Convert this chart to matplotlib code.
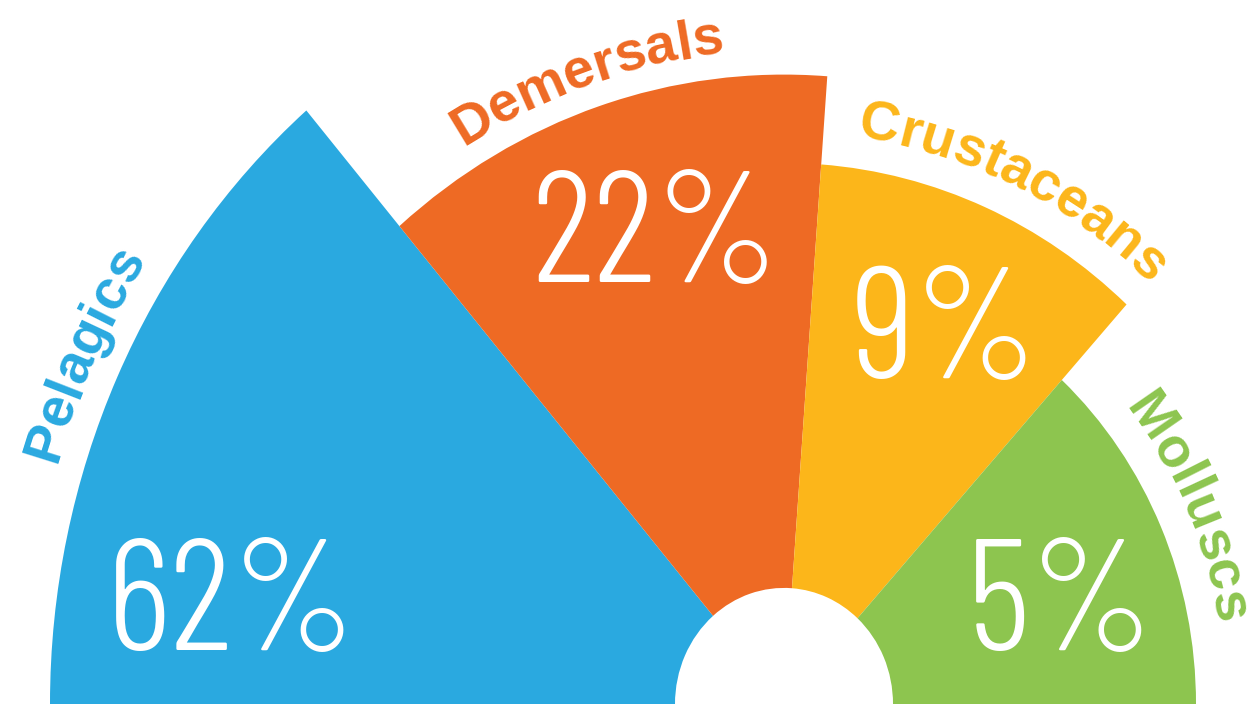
import numpy as np
import matplotlib
matplotlib.use("Agg")
import matplotlib.pyplot as plt
from matplotlib.patches import Wedge
from matplotlib import font_manager as fm
from matplotlib.ft2font import FT2Font

groups = ['Pelagics', 'Demersals', 'Crustaceans', 'Molluscs']
shares = [62, 22, 9, 5]
# angular width (degrees) and outer radius of each petal
spans = [49.4, 44.8, 38.2, 47.6]
reach = [734, 591, 508, 412]
colors = ['#2AA9E0', '#EE6A24', '#FCB61A', '#8DC54F']

hole = 109
squash = 1.065  # the half-rose is drawn slightly taller than wide

# where the names run along the rim, and where the big numbers sit
name_r = [762, 614, 537, 439]
name_mid = [154.8, 108.5, 64.7, 24.6]
pct_xy = [(-552, 50.7), (-129, 396.2), (161, 306.1), (277, 50.7)]

fig = plt.figure(figsize=(12.56, 7.04), dpi=100)
ax = fig.add_axes([0, 0, 1, 1])
ax.set_xlim(-784, 472)
ax.set_ylim(0, 704 / squash)
ax.axis('off')

edges = 180 - np.concatenate([[0], np.cumsum(spans)])
for i in range(len(groups)):
    ax.add_patch(Wedge((0, 0), reach[i], edges[i + 1], edges[i],
                       width=reach[i] - hole, facecolor=colors[i], lw=0))

name_font = fm.FontProperties(family='Liberation Sans', weight='bold', size=40)
ft = FT2Font(fm.findfont(name_font))
ft.set_size(40, 100)


def advance(ch):
    return ft.load_char(ord(ch)).linearHoriAdvance / 65536.0


def arc_text(word, r, mid, color):
    widths = [advance(c) for c in word]
    total = sum(widths)

    # screen pixels per radian along the (slightly squashed) arc
    def rate(phi):
        return r * np.hypot(np.sin(phi), squash * np.cos(phi))

    phi = np.radians(mid) + total / 2 / rate(np.radians(mid))
    for ch, w in zip(word, widths):
        pc = phi - w / 2 / rate(phi)
        rot = np.degrees(np.arctan2(-squash * np.cos(pc), np.sin(pc)))
        ax.text(r * np.cos(pc), r * np.sin(pc), ch, rotation=rot,
                rotation_mode='anchor', ha='center', va='baseline',
                fontproperties=name_font, color=color)
        phi -= w / rate(phi)


for i in range(len(groups)):
    arc_text(groups[i], name_r[i], name_mid[i], colors[i])
    ax.text(pct_xy[i][0], pct_xy[i][1], '%d%%' % shares[i], ha='center', va='baseline',
            family='Barlow Condensed', weight=300, fontsize=114, color='white')

fig.savefig('out.png', dpi=100)
